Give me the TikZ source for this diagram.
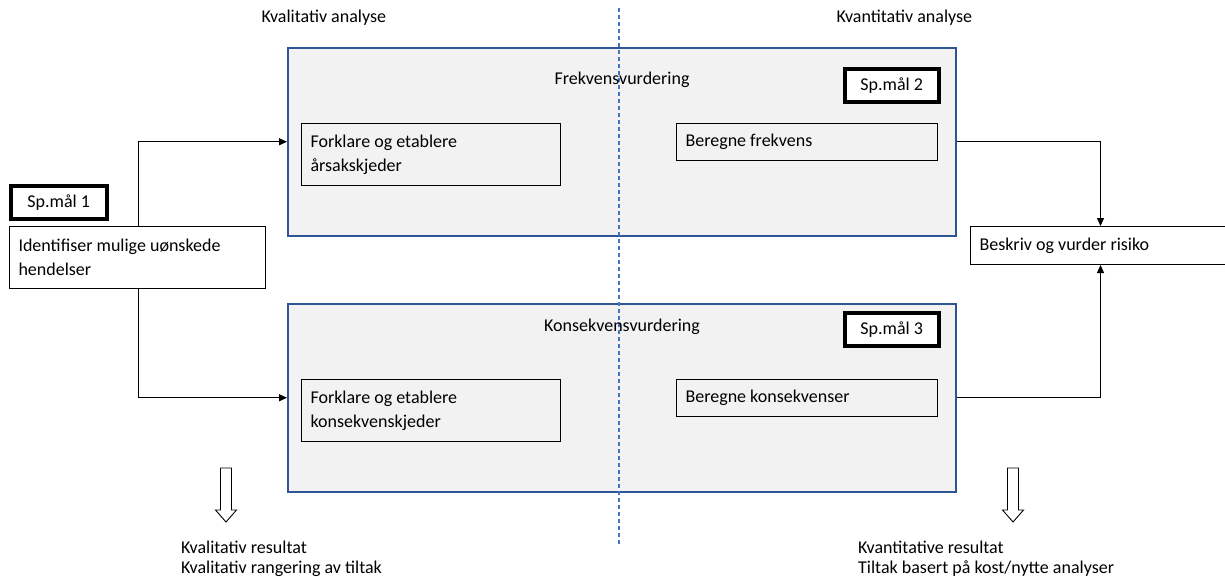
\documentclass[tikz,border=0pt]{standalone}
\usepackage{fontspec}
\setmainfont{Carlito}
\usetikzlibrary{arrows.meta}
\definecolor{panelfill}{HTML}{F2F2F2}
\definecolor{panelblue}{HTML}{2F5597}
\definecolor{dashblue}{HTML}{4472C4}
\begin{document}
\begin{tikzpicture}[x=1pt,y=-1pt,
  every node/.style={font=\fontsize{18}{24}\selectfont},
  panel/.style={draw=panelblue,fill=panelfill,line width=1.5pt,minimum width=668pt,minimum height=188pt,inner sep=0pt},
  stepbox/.style={draw=black,line width=1pt,align=flush left,anchor=north west,inner xsep=9pt,inner ysep=0pt,text width=#1},
  spbox/.style={draw=black,fill=white,line width=3.5pt,inner sep=0pt,minimum height=33pt,anchor=north west},
  arr/.style={draw=black,line width=1pt,-{Triangle[length=8pt,width=7pt]}},
  hollow/.style={draw=black,line width=0.9pt,fill=white},
  result/.style={anchor=base west,align=left,inner sep=0pt,font=\fontsize{18}{20}\selectfont}
]
\useasboundingbox (0,0) rectangle (1225,576);
% panels
\node[panel,anchor=north west] (topbox) at (287,47) {};
\node[panel,anchor=north west] (botbox) at (287,303) {};
% dashed divider
\draw[dashblue,line width=1.1pt,dash pattern=on 4pt off 3pt] (619,8) -- (619,545);
% column titles
\node[anchor=west] (qual) at (258,18) {Kvalitativ analyse};
\node[anchor=west] (quan) at (833,18) {Kvantitativ analyse};
% panel titles
\node (freq) at (622,80) {Frekvensvurdering};
\node (kons) at (622,327) {Konsekvensvurdering};
% Sp.mål boxes
\node[spbox,minimum width=94pt] (sp2) at (843,67) {Sp.mål 2};
\node[spbox,minimum width=94pt] (sp3) at (843,311) {Sp.mål 3};
% inner step boxes
\node[stepbox=241pt,fill=panelfill,minimum height=62pt] (cause) at (301,123) {Forklare og etablere\\årsakskjeder};
\node[stepbox=243pt,fill=panelfill,minimum height=37pt] (calcf) at (676,123) {Beregne frekvens};
\node[stepbox=241pt,fill=panelfill,minimum height=62pt] (cons) at (301,379) {Forklare og etablere\\konsekvenskjeder};
\node[stepbox=243pt,fill=panelfill,minimum height=37pt] (calcc) at (676,379) {Beregne konsekvenser};
% left side
\node[spbox,minimum width=96pt] (sp1) at (9,184) {Sp.mål 1};
\node[stepbox=238pt,fill=white,minimum height=62pt] (ident) at (9,226) {Identifiser mulige uønskede\\hendelser};
% right side
\node[stepbox=242pt,fill=white,minimum height=38pt] (risk) at (970,226) {Beskriv og vurder risiko};
% connectors
\coordinate (j1) at (138,141);
\draw[arr] (ident.north -| j1) |- (topbox.west);
\draw[arr] (ident.south -| j1) |- (botbox.west);
\draw[arr] (topbox.east) -| (risk.north);
\draw[arr] (botbox.east) -| (risk.south);
% hollow down arrows
\draw[hollow] (220.5,468) -- (231.5,468) -- (231.5,510) -- (236.5,510) -- (226,522) -- (215.5,510) -- (220.5,510) -- cycle;
\draw[hollow] (1007.5,468) -- (1018.5,468) -- (1018.5,510) -- (1023.5,510) -- (1013,522) -- (1002.5,510) -- (1007.5,510) -- cycle;
% results
\node[result] (resl) at (181,573) {Kvalitativ resultat\\Kvalitativ rangering av tiltak};
\node[result] (resr) at (858,573) {Kvantitative resultat\\Tiltak basert på kost/nytte analyser};
\end{tikzpicture}
\end{document}
